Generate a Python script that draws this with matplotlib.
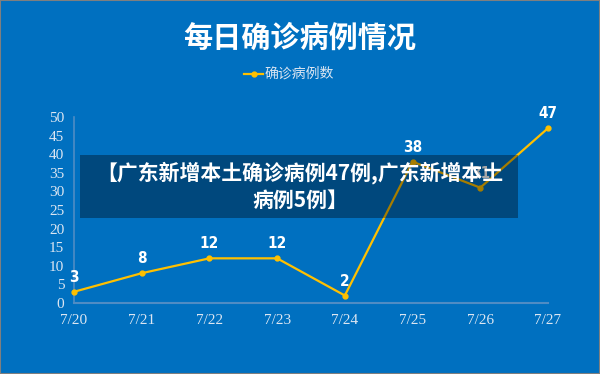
import matplotlib.pyplot as plt
from matplotlib.patches import Rectangle

plt.rcParams['font.family'] = ['Noto Sans CJK SC', 'DejaVu Sans']

# data
dates = ['7/20', '7/21', '7/22', '7/23', '7/24', '7/25', '7/26', '7/27']
cases = [3, 8, 12, 12, 2, 38, 31, 47]
yticks = [0, 5, 10, 15, 20, 25, 30, 35, 40, 45, 50]

bg = '#0070C0'
gold = '#FFC000'
tick_col = '#DCE6F2'

fig = plt.figure(figsize=(6, 3.74), dpi=100, facecolor=bg)
ax = fig.add_axes([0.1233, 0.19, 0.79, 0.497])
ax.set_facecolor(bg)

x = list(range(len(dates)))
ax.plot(x, cases, color=gold, lw=1.6, marker='o', ms=3.5, clip_on=False, zorder=3)
for xi, v in zip(x, cases):
    ax.annotate(str(v), (xi, v), xytext=(0, 5), textcoords='offset points',
                ha='center', va='bottom', color='white', fontsize=11,
                fontweight='bold', family=['DejaVu Sans'], stretch='condensed')

ax.set_xlim(0, 7)
ax.set_ylim(0, 50)
ax.set_yticks(yticks)
ax.set_xticks(x)
ax.set_xticklabels(dates)
ax.tick_params(length=0, colors=tick_col, labelsize=11)
ax.tick_params(axis='x', pad=8)
ax.tick_params(axis='y', pad=7)
for lab in ax.get_xticklabels() + ax.get_yticklabels():
    lab.set_family(['Liberation Serif'])
for s in ['top', 'right']:
    ax.spines[s].set_visible(False)
ax.spines['left'].set_color('#4F8CC4')
ax.spines['bottom'].set_color('#4F8CC4')
ax.spines['left'].set_linewidth(1.2)
ax.spines['bottom'].set_linewidth(1.5)

# title and legend
fig.text(0.5, 1 - 38 / 374, '每日确诊病例情况', ha='center', va='center', color='white',
         fontsize=21, fontweight='heavy')
leg_y = 1 - 74 / 374
fig.lines.append(plt.Line2D([244 / 600, 253.5 / 600, 263 / 600], [leg_y] * 3,
                            transform=fig.transFigure, color=gold, lw=1.6,
                            marker='o', ms=3.5, markevery=[1]))
fig.text(265 / 600, leg_y, '确诊病例数', ha='left', va='center', color=tick_col, fontsize=10)

# overlay caption box
fig.patches.append(Rectangle((80 / 600, 1 - 218 / 374), 438 / 600, 63 / 374,
                             transform=fig.transFigure, facecolor='black',
                             alpha=0.35, edgecolor='none', zorder=10))
fig.text(0.5, 1 - 186 / 374, '【广东新增本土确诊病例47例,广东新增本土\n病例5例】',
         ha='center', va='center', color='white', fontsize=15, fontweight='bold',
         linespacing=1.3, zorder=11)

# thin border
fig.patches.append(Rectangle((0, 0), 1, 1, transform=fig.transFigure, fill=False,
                             edgecolor='#7F7F7F', lw=1.5, zorder=12))

fig.savefig('out.png', dpi=100, facecolor=bg)
